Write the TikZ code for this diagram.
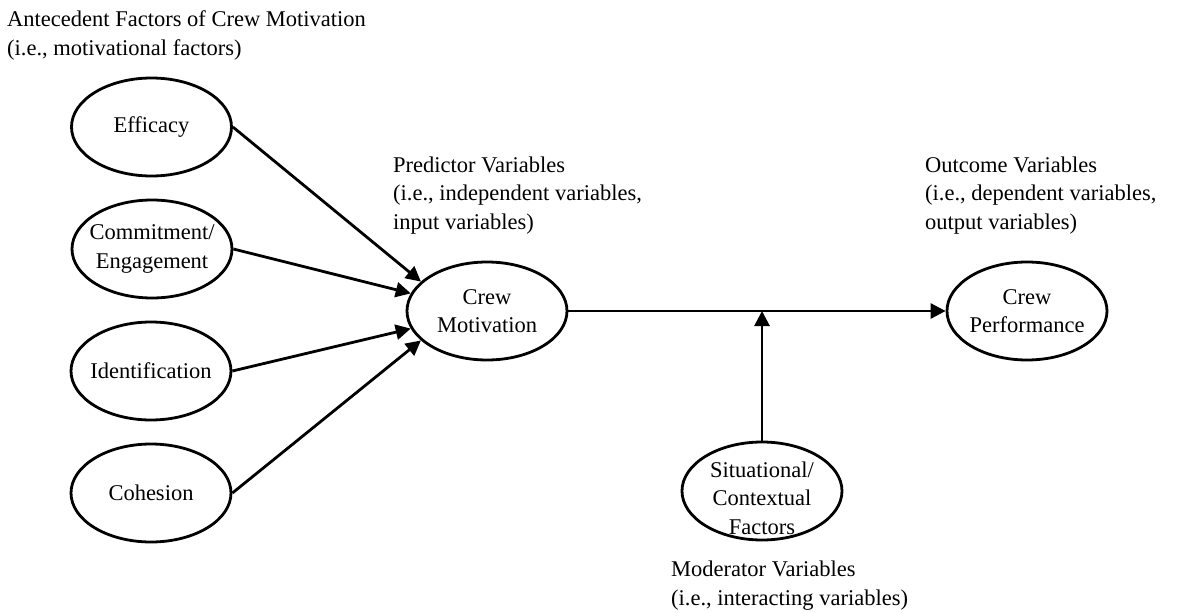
\documentclass[tikz,border=0pt]{standalone}
\usepackage{fontspec}
\setmainfont{Liberation Serif}
\usetikzlibrary{shapes.geometric,arrows.meta}
\begin{document}
\begin{tikzpicture}[x=1pt,y=-1pt,
  every node/.style={font=\fontsize{22.5}{28.5}\selectfont},
  ell/.style={ellipse,draw,line width=2.8pt,minimum width=160pt,minimum height=98pt,inner sep=0pt},
  etext/.style={align=center,inner sep=0pt},
  note/.style={align=left,inner sep=0pt,anchor=base west},
  conn/.style={line width=2.8pt,-{Triangle[length=15pt,width=15pt]}}]
\useasboundingbox (0,0) rectangle (1178,613);
\fill[white] (0,0) rectangle (1178,613);

% ellipses
\node[ell] (eff) at (151.5,127) {};
\node[ell] (com) at (152,249) {};
\node[ell] (ide) at (151,371) {};
\node[ell] (coh) at (151,493) {};
\node[ell] (cm) at (487,311) {};
\node[ell] (cp) at (1027,311) {};
\node[ell] (sit) at (762,491) {};

% ellipse texts
\node[etext] (efft) at (eff) {Efficacy};
\node[etext] (comt) at (com) {Commitment/\\Engagement};
\node[etext] (idet) at (ide) {Identification};
\node[etext] (coht) at (coh) {Cohesion};
\node[etext] (cmt) at (cm) {Crew\\Motivation};
\node[etext] (cpt) at (cp) {Crew\\Performance};
\node[etext] (sitt) at ([yshift=-7pt]sit.center) {Situational/\\Contextual\\Factors};

% notes (anchor is the baseline of the last line)
\node[note] (ante) at (7,55.5) {Antecedent Factors of Crew Motivation\\(i.e., motivational factors)};
\node[note] (pred) at (393,229) {Predictor Variables\\(i.e., independent variables,\\input variables)};
\node[note] (outc) at (925,229) {Outcome Variables\\(i.e., dependent variables,\\output variables)};
\node[note] (mode) at (671,605) {Moderator Variables\\(i.e., interacting variables)};

% connectors
\draw[conn] (eff.east) -- (cm.156);
\draw[conn] (com.east) -- (cm.167);
\draw[conn] (ide.east) -- (cm.193);
\draw[conn] (coh.east) -- (cm.204);
\draw[conn] (cm.east) -- (cp.west);
\coordinate (jn) at (sit.north |- cm.east);
\draw[conn] (sit.north) -- (jn);
\end{tikzpicture}
\end{document}
